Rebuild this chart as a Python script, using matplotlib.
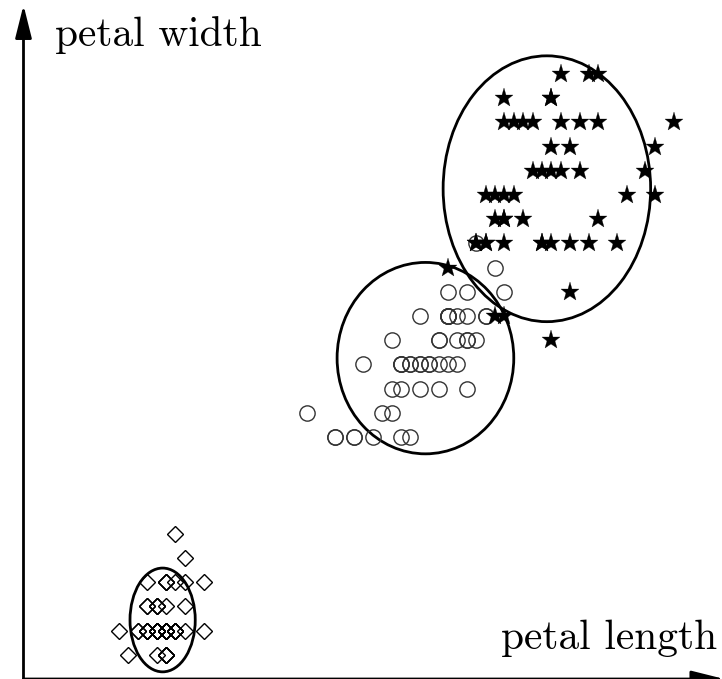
import numpy as np
import matplotlib
matplotlib.use('Agg')
import matplotlib.pyplot as plt
from matplotlib.patches import Ellipse

plt.rcParams['axes.formatter.use_mathtext'] = True

# iris petal measurements (cm): length, width per species
setosa_length = [1.4, 1.4, 1.3, 1.5, 1.4, 1.7, 1.4, 1.5, 1.4, 1.5,
                 1.5, 1.6, 1.4, 1.1, 1.2, 1.5, 1.3, 1.4, 1.7, 1.5,
                 1.7, 1.5, 1.0, 1.7, 1.9, 1.6, 1.6, 1.5, 1.4, 1.6,
                 1.6, 1.5, 1.5, 1.4, 1.5, 1.2, 1.3, 1.5, 1.3, 1.5,
                 1.3, 1.3, 1.3, 1.6, 1.9, 1.4, 1.6, 1.4, 1.5, 1.4]
setosa_width = [0.2, 0.2, 0.2, 0.2, 0.2, 0.4, 0.3, 0.2, 0.2, 0.1,
                0.2, 0.2, 0.1, 0.1, 0.2, 0.4, 0.4, 0.3, 0.3, 0.3,
                0.2, 0.4, 0.2, 0.5, 0.2, 0.2, 0.4, 0.2, 0.2, 0.2,
                0.2, 0.4, 0.1, 0.2, 0.1, 0.2, 0.2, 0.1, 0.2, 0.2,
                0.3, 0.3, 0.2, 0.6, 0.4, 0.3, 0.2, 0.2, 0.2, 0.2]

versicolor_length = [4.7, 4.5, 4.9, 4.0, 4.6, 4.5, 4.7, 3.3, 4.6, 3.9,
                     3.5, 4.2, 4.0, 4.7, 3.6, 4.4, 4.5, 4.1, 4.5, 3.9,
                     4.8, 4.0, 4.9, 4.7, 4.3, 4.4, 4.8, 5.0, 4.5, 3.5,
                     3.8, 3.7, 3.9, 5.1, 4.5, 4.5, 4.7, 4.4, 4.1, 4.0,
                     4.4, 4.6, 4.0, 3.3, 4.2, 4.2, 4.2, 4.3, 3.0, 4.1]
versicolor_width = [1.4, 1.5, 1.5, 1.3, 1.5, 1.3, 1.6, 1.0, 1.3, 1.4,
                    1.0, 1.5, 1.0, 1.4, 1.3, 1.4, 1.5, 1.0, 1.5, 1.1,
                    1.8, 1.3, 1.5, 1.2, 1.3, 1.4, 1.4, 1.7, 1.5, 1.0,
                    1.1, 1.0, 1.2, 1.6, 1.5, 1.6, 1.5, 1.3, 1.3, 1.3,
                    1.2, 1.4, 1.2, 1.0, 1.3, 1.2, 1.3, 1.3, 1.1, 1.3]

virginica_length = [6.0, 5.1, 5.9, 5.6, 5.8, 6.6, 4.5, 6.3, 5.8, 6.1,
                    5.1, 5.3, 5.5, 5.0, 5.1, 5.3, 5.5, 6.7, 6.9, 5.0,
                    5.7, 4.9, 6.7, 4.9, 5.7, 6.0, 4.8, 4.9, 5.6, 5.8,
                    6.1, 6.4, 5.6, 5.1, 5.6, 6.1, 5.6, 5.5, 4.8, 5.4,
                    5.6, 5.1, 5.1, 5.9, 5.7, 5.2, 5.0, 5.2, 5.4, 5.1]
virginica_width = [2.5, 1.9, 2.1, 1.8, 2.2, 2.1, 1.7, 1.8, 1.8, 2.5,
                   2.0, 1.9, 2.1, 2.0, 2.4, 2.3, 1.8, 2.2, 2.3, 1.5,
                   2.3, 2.0, 2.0, 1.8, 2.1, 1.8, 1.8, 1.8, 2.1, 1.6,
                   1.9, 2.0, 2.2, 1.5, 1.4, 2.3, 2.4, 1.8, 1.8, 2.1,
                   2.4, 2.3, 1.9, 2.3, 2.5, 2.3, 1.9, 2.0, 2.3, 1.8]

fig = plt.figure(figsize=(7.22, 6.79), dpi=100)
ax = fig.add_axes([0, 0, 1, 1])
ax.set_xlim(-0.266, 7.415)
ax.set_ylim(0, 2.806)
ax.axis('off')

ax.plot(setosa_length, setosa_width, 'D', ms=8.5, mfc='none', mec='k', mew=1.0)
ax.plot(versicolor_length, versicolor_width, 'o', ms=11, mfc='none', mec='#333333', mew=1.0)
ax.plot(virginica_length, virginica_width, '*', ms=14, mfc='k', mec='k', mew=0.2)

# 2-sigma axis aligned ellipse for each class
for xs, ys in [(setosa_length, setosa_width),
               (versicolor_length, versicolor_width),
               (virginica_length, virginica_width)]:
    xs = np.array(xs)
    ys = np.array(ys)
    e = Ellipse((xs.mean(), ys.mean()), 4 * xs.std(ddof=1), 4 * ys.std(ddof=1),
                fill=False, ec='k', lw=2)
    ax.add_patch(e)

# axes drawn as arrows
arrow = dict(arrowstyle='-|>,head_length=0.8,head_width=0.2', lw=2, color='k',
             mutation_scale=25, shrinkA=0, shrinkB=0)
ax.annotate('', xy=(-0.016, 2.785), xytext=(-0.016, 0), arrowprops=arrow,
            annotation_clip=False)
ax.annotate('', xy=(7.44, 0.0), xytext=(-0.016, 0.0), arrowprops=arrow,
            annotation_clip=False)

ax.text(0.319, 2.616, 'petal width', family='cmr10', fontsize=29.8,
        ha='left', va='baseline')
ax.text(7.36, 0.124, 'petal length', family='cmr10', fontsize=29.8,
        ha='right', va='baseline')

fig.savefig('out.png', dpi=100)
